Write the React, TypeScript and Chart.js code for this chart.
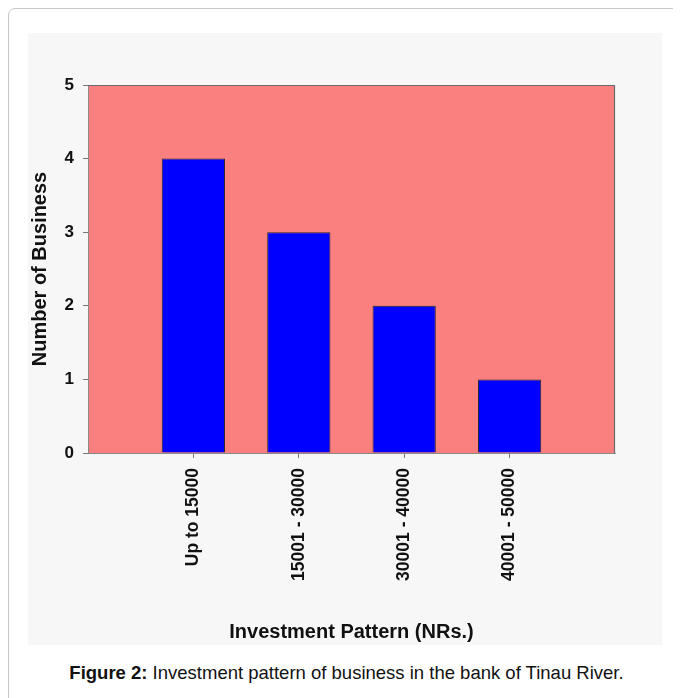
import React, { useEffect, useRef } from "react";
import { Chart, registerables } from "chart.js";

Chart.register(...registerables);

const categories = ["Up to 15000", "15001 - 30000", "30001 - 40000", "40001 - 50000"];
const businessCounts = [4, 3, 2, 1];
const yTicks = [0, 1, 2, 3, 4, 5];
const yTitle = "Number of Business";
const xTitle = "Investment Pattern (NRs.)";
const captionBold = "Figure 2:";
const captionText = " Investment pattern of business in the bank of Tinau River.";

const FONT = "'Liberation Sans', Arial, sans-serif";

const plotBg = {
  id: "plotBg",
  beforeDraw(chart: any) {
    const { ctx, chartArea } = chart;
    ctx.save();
    ctx.fillStyle = "#FA7F7F";
    ctx.fillRect(chartArea.left, chartArea.top, chartArea.right - chartArea.left, chartArea.bottom - chartArea.top);
    ctx.restore();
  },
  afterDatasetsDraw(chart: any) {
    const { ctx, chartArea } = chart;
    ctx.save();
    ctx.strokeStyle = "#6a6a6a";
    ctx.lineWidth = 1.2;
    ctx.beginPath();
    ctx.moveTo(chartArea.left, chartArea.top + 0.5);
    ctx.lineTo(chartArea.right - 0.5, chartArea.top + 0.5);
    ctx.lineTo(chartArea.right - 0.5, chartArea.bottom);
    ctx.stroke();
    ctx.restore();
  },
};

export default function App() {
  const ref = useRef<HTMLCanvasElement | null>(null);

  useEffect(() => {
    if (!ref.current) return;
    const labels = ["", ...categories, ""];
    const data = [null, ...businessCounts, null];
    const chart = new Chart(ref.current, {
      type: "bar",
      data: {
        labels,
        datasets: [
          {
            data,
            backgroundColor: "#0000FF",
            borderColor: "#2a2a2a",
            borderWidth: 1,
            barPercentage: 0.6,
            categoryPercentage: 1,
          },
        ],
      },
      options: {
        animation: false,
        responsive: false,
        devicePixelRatio: 1,
        layout: { padding: { top: 52, right: 47, left: 0, bottom: 0 } },
        plugins: { legend: { display: false }, tooltip: { enabled: false } },
        scales: {
          x: {
            type: "category",
            offset: false,
            grid: {
              offset: false,
              drawOnChartArea: false,
              drawTicks: true,
              tickLength: 5,
              color: (c: any) => (c.index === 0 || c.index === labels.length - 1 ? "rgba(0,0,0,0)" : "#777"),
            },
            border: { display: true, color: "#888" },
            ticks: {
              autoSkip: false,
              minRotation: 90,
              maxRotation: 90,
              padding: 10,
              color: "#111",
              font: { family: FONT, size: 17.5, weight: "bold" },
            },
            title: {
              display: true,
              text: xTitle,
              color: "#111",
              padding: { top: 0, bottom: 1 },
              font: { family: FONT, size: 20, weight: "bold" },
            },
            afterFit(scale: any) {
              scale.height = 192;
            },
          },
          y: {
            min: 0,
            max: 5,
            afterBuildTicks(scale: any) {
              scale.ticks = yTicks.map((v) => ({ value: v }));
            },
            grid: { drawOnChartArea: false, drawTicks: true, tickLength: 5, color: "#777" },
            border: { display: true, color: "#888" },
            ticks: {
              padding: 9,
              color: "#111",
              font: { family: FONT, size: 17, weight: "bold" },
            },
            title: {
              display: true,
              text: yTitle,
              color: "#111",
              padding: { top: 0, bottom: 0 },
              font: { family: FONT, size: 20, weight: "bold" },
            },
            afterFit(scale: any) {
              scale.width = 60;
            },
          },
        },
      },
      plugins: [plotBg],
    });
    return () => chart.destroy();
  }, []);

  return (
    <div style={{ position: "relative", width: 673, height: 690, overflow: "hidden" }}>
      <div
        style={{
          position: "absolute",
          left: 0,
          top: 0,
          width: 720,
          height: 720,
          border: "1px solid #c8c8c8",
          borderRadius: 7,
          boxSizing: "border-box",
          background: "#fff",
        }}
      />
      <div style={{ position: "absolute", left: 20, top: 25, width: 634, height: 612, background: "#f7f7f7" }}>
        <canvas ref={ref} width={634} height={612} style={{ width: 634, height: 612, display: "block" }} />
      </div>
      <div
        style={{
          position: "absolute",
          left: 0,
          top: 654,
          width: 677,
          textAlign: "center",
          fontFamily: FONT,
          fontSize: 18.5,
          lineHeight: "22px",
          color: "#111",
          whiteSpace: "nowrap",
        }}
      >
        <b>{captionBold}</b>
        {captionText}
      </div>
    </div>
  );
}
